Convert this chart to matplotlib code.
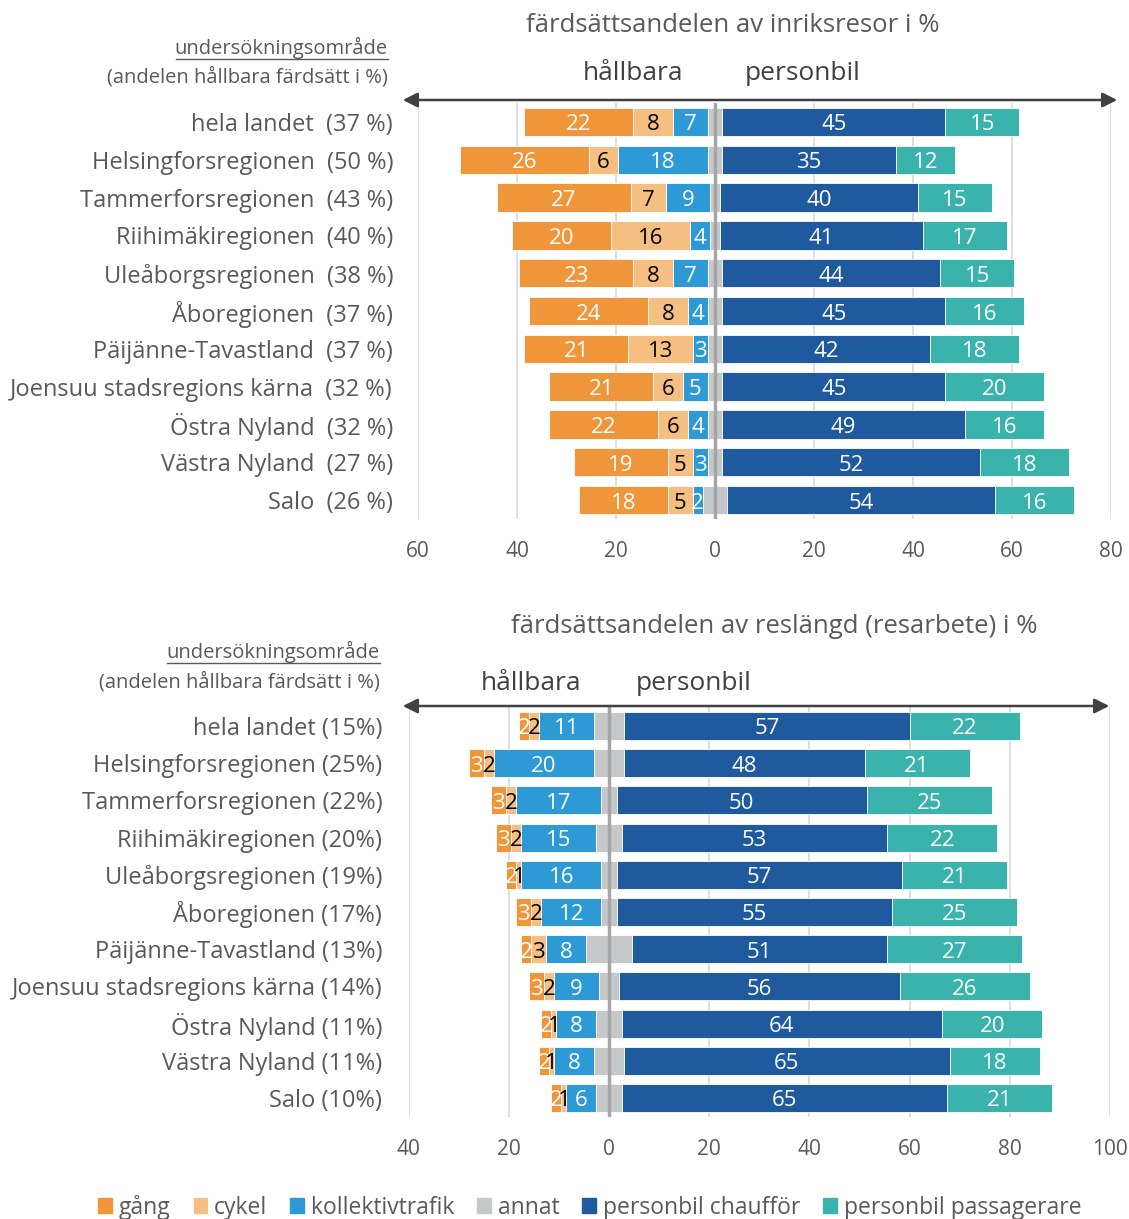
import matplotlib
matplotlib.use("Agg")
import matplotlib.pyplot as plt
import numpy as np
from matplotlib.patches import Patch, FancyArrowPatch

plt.rcParams['font.family'] = ['Open Sans', 'DejaVu Sans']

regions = ['hela landet', 'Helsingforsregionen', 'Tammerforsregionen', 'Riihimäkiregionen',
           'Uleåborgsregionen', 'Åboregionen', 'Päijänne-Tavastland', 'Joensuu stadsregions kärna',
           'Östra Nyland', 'Västra Nyland', 'Salo']

# inriksresor (trips)
share_trips = [37, 50, 43, 40, 38, 37, 37, 32, 32, 27, 26]
gang_t = [22, 26, 27, 20, 23, 24, 21, 21, 22, 19, 18]
cykel_t = [8, 6, 7, 16, 8, 8, 13, 6, 6, 5, 5]
koll_t = [7, 18, 9, 4, 7, 4, 3, 5, 4, 3, 2]
annat_t = [3, 3, 2, 2, 3, 3, 3, 3, 3, 3, 5]
chauf_t = [45, 35, 40, 41, 44, 45, 42, 45, 49, 52, 54]
pass_t = [15, 12, 15, 17, 15, 16, 18, 20, 16, 18, 16]

# reslängd (resarbete)
share_km = [15, 25, 22, 20, 19, 17, 13, 14, 11, 11, 10]
gang_k = [2, 3, 3, 3, 2, 3, 2, 3, 2, 2, 2]
cykel_k = [2, 2, 2, 2, 1, 2, 3, 2, 1, 1, 1]
koll_k = [11, 20, 17, 15, 16, 12, 8, 9, 8, 8, 6]
annat_k = [6, 6, 3, 5, 3, 3, 9, 4, 5, 6, 5]
chauf_k = [57, 48, 50, 53, 57, 55, 51, 56, 64, 65, 65]
pass_k = [22, 21, 25, 22, 21, 25, 27, 26, 20, 18, 21]

c_gang = '#F0963A'
c_cykel = '#F5BF82'
c_koll = '#2D9AD6'
c_annat = '#C6C7C9'
c_chauf = '#1F5A9E'
c_pass = '#3AB3AC'
grey = '#595959'

W, H = 1129, 1219
fig = plt.figure(figsize=(W / 100, H / 100), dpi=100)


def fx(px):
    return px / W


def fy(py):
    return 1 - py / H


def panel(box, xlim, gang, cykel, koll, annat, chauf, pas, labels, lab_pad):
    ax = fig.add_axes(box)
    y = np.arange(len(gang))
    g = np.array(gang); c = np.array(cykel); k = np.array(koll)
    a = np.array(annat); d = np.array(chauf); p = np.array(pas)
    h = 0.75
    kw = dict(height=h, edgecolor='white', linewidth=0.6, zorder=3)
    ax.barh(y, -k, left=-a / 2, color=c_koll, **kw)
    ax.barh(y, -c, left=-a / 2 - k, color=c_cykel, **kw)
    ax.barh(y, -g, left=-a / 2 - k - c, color=c_gang, **kw)
    ax.barh(y, a, left=-a / 2, color=c_annat, **kw)
    ax.barh(y, d, left=a / 2, color=c_chauf, **kw)
    ax.barh(y, p, left=a / 2 + d, color=c_pass, **kw)
    for i in range(len(y)):
        segs = [(-a[i] / 2 - k[i] - c[i] - g[i] / 2, g[i], 'white'),
                (-a[i] / 2 - k[i] - c[i] / 2, c[i], 'black'),
                (-a[i] / 2 - k[i] / 2, k[i], 'white'),
                (a[i] / 2 + d[i] / 2, d[i], 'white'),
                (a[i] / 2 + d[i] + p[i] / 2, p[i], 'white')]
        for xc, v, col in segs:
            ax.text(xc, i + 0.08, str(v), ha='center', va='center', color=col,
                    fontsize=16, zorder=5)
    ax.set_xlim(xlim)
    ax.set_ylim(len(y) - 0.5, -0.5)
    ticks = np.arange(xlim[0], xlim[1] + 1, 20)
    ax.set_xticks(ticks)
    ax.set_xticklabels([str(abs(t)) for t in ticks], fontsize=15, color=grey)
    ax.tick_params(axis='x', length=0, pad=16)
    ax.set_yticks(y)
    ax.set_yticklabels(labels, fontsize=17, color=grey)
    ax.tick_params(axis='y', length=0, pad=lab_pad)
    for s in ax.spines.values():
        s.set_visible(False)
    for t in ticks:
        ax.axvline(t, color='#D9D9D9', lw=1.2, zorder=1)
    ax.axvline(0, color='#A6A6A6', lw=2.5, zorder=6)
    return ax


# top panel
ax1 = panel([fx(418), fy(519), fx(1111) - fx(418), (519 - 103) / H], (-60, 80),
            gang_t, cykel_t, koll_t, annat_t, chauf_t, pass_t,
            [f'{r}  ({s} %)' for r, s in zip(regions, share_trips)], 18)

# bottom panel
ax2 = panel([fx(408.6), fy(1116.6), fx(1110) - fx(408.6), (1116.6 - 707.4) / H], (-40, 100),
            gang_k, cykel_k, koll_k, annat_k, chauf_k, pass_k,
            [f'{r} ({s}%)' for r, s in zip(regions, share_km)], 19)

# titles, headers, arrows
fig.text(fx(733), fy(25), 'färdsättsandelen av inriksresor i %', ha='center', va='center',
         fontsize=18.5, color=grey)
fig.text(fx(633), fy(73), 'hållbara', ha='center', va='center', fontsize=19, color='#404040')
fig.text(fx(803), fy(73), 'personbil', ha='center', va='center', fontsize=19, color='#404040')
fig.text(fx(388), fy(48), 'undersökningsområde', ha='right', va='center', fontsize=14.5,
         color=grey)
fig.add_artist(plt.Line2D([fx(176), fx(388)], [fy(59), fy(59)], color=grey, lw=1))
fig.text(fx(388), fy(77), '(andelen hållbara färdsätt i %)', ha='right', va='center',
         fontsize=14.5, color=grey)

fig.text(fx(774), fy(627), 'färdsättsandelen av reslängd (resarbete) i %', ha='center',
         va='center', fontsize=18.5, color=grey)
fig.text(fx(531), fy(684), 'hållbara', ha='center', va='center', fontsize=19, color='#404040')
fig.text(fx(694), fy(684), 'personbil', ha='center', va='center', fontsize=19, color='#404040')
fig.text(fx(380), fy(652), 'undersökningsområde', ha='right', va='center', fontsize=14.5,
         color=grey)
fig.add_artist(plt.Line2D([fx(167), fx(380)], [fy(663), fy(663)], color=grey, lw=1))
fig.text(fx(380), fy(682), '(andelen hållbara färdsätt i %)', ha='right', va='center',
         fontsize=14.5, color=grey)

for x0, x1, yy in [(400, 1120, 100), (400, 1112, 706)]:
    arr = FancyArrowPatch((fx(x0), fy(yy)), (fx(x1), fy(yy)), transform=fig.transFigure,
                          arrowstyle='<|-|>', mutation_scale=22, color='#404040', lw=1.8)
    fig.add_artist(arr)

handles = [Patch(color=c_gang, label='gång'), Patch(color=c_cykel, label='cykel'),
           Patch(color=c_koll, label='kollektivtrafik'), Patch(color=c_annat, label='annat'),
           Patch(color=c_chauf, label='personbil chaufför'),
           Patch(color=c_pass, label='personbil passagerare')]
leg = fig.legend(handles=handles, loc='center', bbox_to_anchor=(fx(590), fy(1207)), ncol=6,
                 frameon=False, fontsize=16.5, handlelength=0.6, handleheight=0.6,
                 handletextpad=0.3, columnspacing=1.0, labelcolor=grey)

fig.savefig('out.png', dpi=100)
